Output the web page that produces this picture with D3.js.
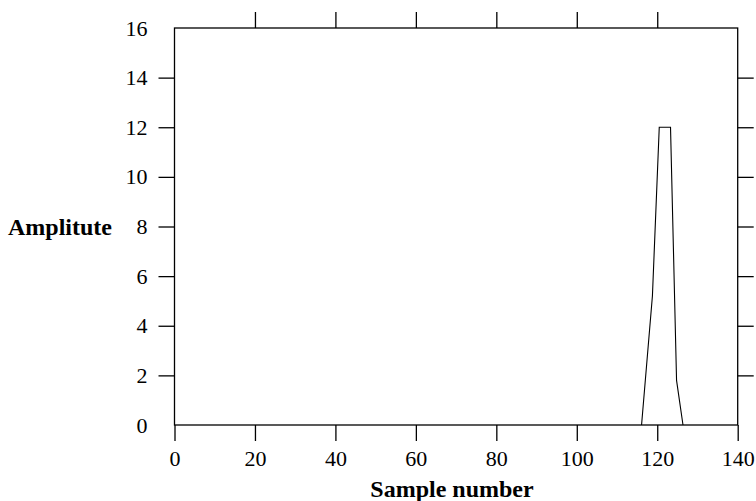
<!DOCTYPE html>
<html><head><meta charset="utf-8">
<script src="https://cdn.jsdelivr.net/npm/d3@7"></script>
<style>body{margin:0;background:#fff}svg{display:block}text{font-family:"Liberation Serif","Times New Roman",serif}</style>
</head><body><svg id="c" width="756" height="501"></svg>
<script>
const sampleX = [116.1, 118.8, 120.5, 123.3, 124.8, 126.4];
const amplitude = [0, 5.2, 12, 12, 1.8, 0];
const xTicks = [0, 20, 40, 60, 80, 100, 120, 140];
const yTicks = [0, 2, 4, 6, 8, 10, 12, 14, 16];

const svg = d3.select("#c");
const L = 174.5, R = 737.7, T = 28, B = 425;
const x = d3.scaleLinear().domain([0, 140]).range([L, R]);
const y = d3.scaleLinear().domain([0, 16]).range([B, T]);
const tl = 16;
const fs = 22;

function styleAxis(g, showText) {
  g.select(".domain").remove();
  g.selectAll(".tick line").attr("stroke", "#000").attr("stroke-width", 1.3);
  g.selectAll(".tick text").attr("font-size", fs).attr("fill", "#000")
   .attr("font-family", "Liberation Serif, serif");
  if (!showText) g.selectAll(".tick text").remove();
}
svg.append("g").attr("transform", `translate(0,${B})`)
  .call(d3.axisBottom(x).tickValues(xTicks).tickSize(tl).tickPadding(9).tickFormat(d3.format("d")))
  .call(g => styleAxis(g, true));
svg.append("g").attr("transform", `translate(0,${T})`)
  .call(d3.axisTop(x).tickValues(xTicks.slice(1, -1)).tickSize(tl))
  .call(g => styleAxis(g, false));
svg.append("g").attr("transform", `translate(${L},0)`)
  .call(d3.axisLeft(y).tickValues(yTicks.slice(1, -1)).tickSize(tl).tickPadding(11))
  .call(g => styleAxis(g, true));
svg.append("g").attr("transform", `translate(${L},0)`)
  .call(d3.axisLeft(y).tickValues([0, 16]).tickSize(0).tickPadding(27))
  .call(g => styleAxis(g, true));
svg.append("g").attr("transform", `translate(${R},0)`)
  .call(d3.axisRight(y).tickValues(yTicks.slice(1, -1)).tickSize(tl))
  .call(g => styleAxis(g, false));

svg.append("rect").attr("x", L).attr("y", T).attr("width", R - L).attr("height", B - T)
  .attr("fill", "none").attr("stroke", "#000").attr("stroke-width", 1.3);

const pts = sampleX.map((s, i) => [s, amplitude[i]]);
svg.append("path").datum(pts)
  .attr("d", d3.line().x(d => x(d[0])).y(d => y(d[1])))
  .attr("fill", "none").attr("stroke", "#000").attr("stroke-width", 1.1);

svg.append("text").attr("x", 8).attr("y", 235).attr("font-size", 24).attr("font-weight", "bold")
  .text("Amplitute");
svg.append("text").attr("x", 452).attr("y", 497).attr("text-anchor", "middle")
  .attr("font-size", 24).attr("font-weight", "bold").text("Sample number");
</script></body></html>
